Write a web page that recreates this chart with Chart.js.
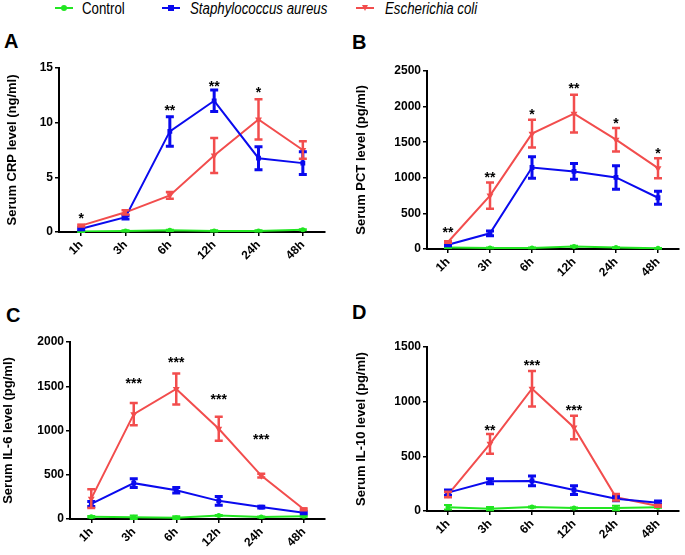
<!DOCTYPE html>
<html>
<head>
<meta charset="utf-8">
<script src="https://cdn.jsdelivr.net/npm/chart.js@4.4.1/dist/chart.umd.min.js"></script>
<style>
  body { margin: 0; background: #fff; }
  #page { position: relative; width: 685px; height: 555px; overflow: hidden; background: #fff; }
  canvas { position: absolute; }
  .letter { position: absolute; font: bold 20px "Liberation Sans", Arial, sans-serif; line-height: 1; color: #000; }
  .lg-text { position: absolute; top: 1px; font: 16px "Liberation Sans", Arial, sans-serif; line-height: 1;
             transform: scaleX(0.83); transform-origin: left top; white-space: nowrap; color: #000; }
  .lg-line { position: absolute; top: 7px; height: 2px; width: 18px; }
  .lg-mark { position: absolute; top: 5px; width: 6px; height: 6px; }
</style>
</head>
<body>
<div id="page">
  <div class="lg-line" style="left:55px; background:#22e622"></div>
  <div class="lg-mark" style="left:61px; background:#22e622; border-radius:3px"></div>
  <div class="lg-text" style="left:82px">Control</div>

  <div class="lg-line" style="left:162px; background:#0a0aee"></div>
  <div class="lg-mark" style="left:168px; background:#0a0aee"></div>
  <div class="lg-text" style="left:190px; font-style:italic">Staphylococcus aureus</div>

  <div class="lg-line" style="left:356px; background:#f24d4d"></div>
  <div class="lg-mark" style="left:362px; width:0; height:0; background:none; border-left:3px solid transparent; border-right:3px solid transparent; border-top:6px solid #f24d4d"></div>
  <div class="lg-text" style="left:385px; font-style:italic">Escherichia coli</div>

  <div class="letter" style="left:4px; top:31px">A</div>
  <div class="letter" style="left:352px; top:32px">B</div>
  <div class="letter" style="left:6px; top:305px">C</div>
  <div class="letter" style="left:352px; top:302px">D</div>

  <canvas id="crp" width="340" height="260" style="left:0; top:30px"></canvas>
  <canvas id="pct" width="345" height="260" style="left:340px; top:30px"></canvas>
  <canvas id="il6" width="340" height="265" style="left:0; top:290px"></canvas>
  <canvas id="il10" width="345" height="265" style="left:340px; top:290px"></canvas>
</div>

<script>
// time points
const hours = ['1h', '3h', '6h', '12h', '24h', '48h'];

// A - CRP (ng/ml)
const crpControl = [0.05, 0.1, 0.15, 0.1, 0.1, 0.2];
const crpControlErr = [0.05, 0.05, 0.05, 0.05, 0.05, 0.05];
const crpStaph = [0.3, 1.35, 9.2, 12.0, 6.75, 6.3];
const crpStaphErr = [0.1, 0.15, 1.35, 0.98, 1.05, 1.05];
const crpEcoli = [0.58, 1.8, 3.35, 7.0, 10.3, 7.5];
const crpEcoliErr = [0.08, 0.2, 0.3, 1.6, 1.85, 0.8];
const crpStars = ['*', '', '**', '**', '*', ''];
const crpStarY = [1.6, null, 11.4, 13.6, 13.1, null];
const crpTicks = [0, 5, 10, 15];

// B - PCT (pg/ml)
const pctControl = [20, 15, 15, 35, 20, 10];
const pctControlErr = [5, 5, 5, 10, 5, 5];
const pctStaph = [60, 220, 1145, 1090, 1005, 720];
const pctStaphErr = [15, 33, 150, 110, 165, 90];
const pctEcoli = [98, 750, 1620, 1900, 1535, 1135];
const pctEcoliErr = [10, 185, 195, 265, 165, 140];
const pctStars = ['**', '**', '*', '**', '*', '*'];
const pctStarY = [276, 1051, 1935, 2299, 1808, 1388];
const pctTicks = [0, 500, 1000, 1500, 2000, 2500];

// C - IL-6 (pg/ml)
const il6Control = [25, 20, 15, 40, 22, 30];
const il6ControlErr = [8, 20, 15, 5, 5, 5];
const il6Staph = [170, 405, 325, 205, 135, 70];
const il6StaphErr = [28, 50, 30, 50, 10, 12];
const il6Ecoli = [230, 1185, 1470, 1020, 490, 110];
const il6EcoliErr = [105, 125, 175, 135, 22, 10];
const il6Stars = ['', '***', '***', '***', '***', ''];
const il6StarY = [null, 1568, 1812, 1388, 942, null];
const il6Ticks = [0, 500, 1000, 1500, 2000];

// D - IL-10 (pg/ml)
const il10Control = [34, 21, 37, 27, 27, 34];
const il10ControlErr = [20, 15, 5, 5, 20, 5];
const il10Staph = [168, 272, 275, 192, 113, 76];
const il10StaphErr = [25, 22, 45, 40, 20, 15];
const il10Ecoli = [150, 614, 1118, 764, 125, 46];
const il10EcoliErr = [25, 90, 163, 107, 30, 8];
const il10Stars = ['', '**', '***', '***', '', ''];
const il10StarY = [null, 764, 1360, 947, null, null];
const il10Ticks = [0, 500, 1000, 1500];

const GREEN = '#22e622';
const BLUE = '#0a0aee';
const RED = '#f24d4d';
const FONT = '"Liberation Sans", Arial, sans-serif';

// error bars drawn from the y scale
const errorBars = {
    id: 'errorBars',
    afterDatasetsDraw(chart) {
        const ctx = chart.ctx;
        const y = chart.scales.y;
        chart.data.datasets.forEach((ds, di) => {
            const meta = chart.getDatasetMeta(di);
            ctx.save();
            ctx.strokeStyle = ds.borderColor;
            ctx.lineWidth = ds.errWidth;
            meta.data.forEach((pt, i) => {
                const e = ds.errors[i];
                if (!e) return;
                const top = y.getPixelForValue(ds.data[i] + e);
                const bot = y.getPixelForValue(Math.max(ds.data[i] - e, 0));
                ctx.beginPath();
                ctx.moveTo(pt.x, top);
                ctx.lineTo(pt.x, bot);
                ctx.moveTo(pt.x - 4, top);
                ctx.lineTo(pt.x + 4, top);
                ctx.moveTo(pt.x - 4, bot);
                ctx.lineTo(pt.x + 4, bot);
                ctx.stroke();
            });
            ctx.restore();
        });
    }
};

// significance stars
const stars = {
    id: 'stars',
    afterDraw(chart, args, opts) {
        const ctx = chart.ctx;
        const x = chart.scales.x;
        const y = chart.scales.y;
        ctx.save();
        ctx.font = 'bold 14px ' + FONT;
        ctx.fillStyle = '#000';
        ctx.textAlign = 'center';
        ctx.textBaseline = 'alphabetic';
        opts.labels.forEach((s, i) => {
            if (!s || opts.yValues[i] == null) return;
            ctx.fillText(s, x.getPixelForValue(i), y.getPixelForValue(opts.yValues[i]) + 8);
        });
        ctx.restore();
    }
};

function series(data, errors, color, style, width) {
    return {
        data: data,
        errors: errors,
        errWidth: width,
        borderColor: color,
        backgroundColor: color,
        borderWidth: 2,
        pointStyle: style,
        pointRotation: style === 'triangle' ? 180 : 0,
        pointRadius: style === 'circle' ? 1.5 : 2,
        tension: 0
    };
}

function makePanel(id, title, ticks, sets, starLabels, starY, box) {
    new Chart(document.getElementById(id), {
        type: 'line',
        data: { labels: hours, datasets: sets },
        plugins: [errorBars, stars],
        options: {
            responsive: false,
            animation: false,
            devicePixelRatio: 1,
            layout: { padding: { left: 0, right: box.right, top: box.top, bottom: 0 } },
            plugins: {
                legend: { display: false },
                tooltip: { enabled: false },
                stars: { labels: starLabels, yValues: starY }
            },
            scales: {
                x: {
                    offset: true,
                    grid: { drawOnChartArea: false, drawTicks: true, tickLength: 4, color: '#000', lineWidth: 1.5 },
                    border: { display: true, color: '#000', width: 2 },
                    ticks: {
                        autoSkip: false, minRotation: 45, maxRotation: 45, padding: 2,
                        color: '#000', font: { family: FONT, size: 12, weight: 'bold' }
                    },
                    afterFit: s => { s.height = box.xh; }
                },
                y: {
                    min: ticks[0],
                    max: ticks[ticks.length - 1],
                    afterBuildTicks: s => { s.ticks = ticks.map(v => ({ value: v })); },
                    grid: { drawOnChartArea: false, drawTicks: true, tickLength: 4, color: '#000', lineWidth: 1.5 },
                    border: { display: true, color: '#000', width: 2 },
                    ticks: {
                        padding: 2, color: '#000', font: { family: FONT, size: 12, weight: 'bold' },
                        callback: v => String(v)
                    },
                    title: {
                        display: true, text: title, color: '#000',
                        font: { family: FONT, size: 13, weight: 'bold' },
                        padding: { top: box.tp, bottom: 0 }
                    },
                    afterFit: s => { s.width = box.yw; }
                }
            }
        }
    });
}

makePanel('crp', 'Serum CRP level (ng/ml)', crpTicks, [
    series(crpControl, crpControlErr, GREEN, 'circle', 2),
    series(crpStaph, crpStaphErr, BLUE, 'rect', 3),
    series(crpEcoli, crpEcoliErr, RED, 'triangle', 2.5)
], crpStars, crpStarY, { yw: 59, right: 15, top: 38, xh: 58, tp: 5 });

makePanel('pct', 'Serum PCT level (pg/ml)', pctTicks, [
    series(pctControl, pctControlErr, GREEN, 'circle', 2),
    series(pctStaph, pctStaphErr, BLUE, 'rect', 3),
    series(pctEcoli, pctEcoliErr, RED, 'triangle', 2.5)
], pctStars, pctStarY, { yw: 87, right: 2, top: 41, xh: 41, tp: 14 });

makePanel('il6', 'Serum IL-6 level (pg/ml)', il6Ticks, [
    series(il6Control, il6ControlErr, GREEN, 'circle', 2),
    series(il6Staph, il6StaphErr, BLUE, 'rect', 3),
    series(il6Ecoli, il6EcoliErr, RED, 'triangle', 2.5)
], il6Stars, il6StarY, { yw: 70, right: 15, top: 52, xh: 36, tp: 1 });

makePanel('il10', 'Serum IL-10 level (pg/ml)', il10Ticks, [
    series(il10Control, il10ControlErr, GREEN, 'circle', 2),
    series(il10Staph, il10StaphErr, BLUE, 'rect', 3),
    series(il10Ecoli, il10EcoliErr, RED, 'triangle', 2.5)
], il10Stars, il10StarY, { yw: 87, right: 2, top: 57, xh: 44, tp: 14 });
</script>
</body>
</html>
